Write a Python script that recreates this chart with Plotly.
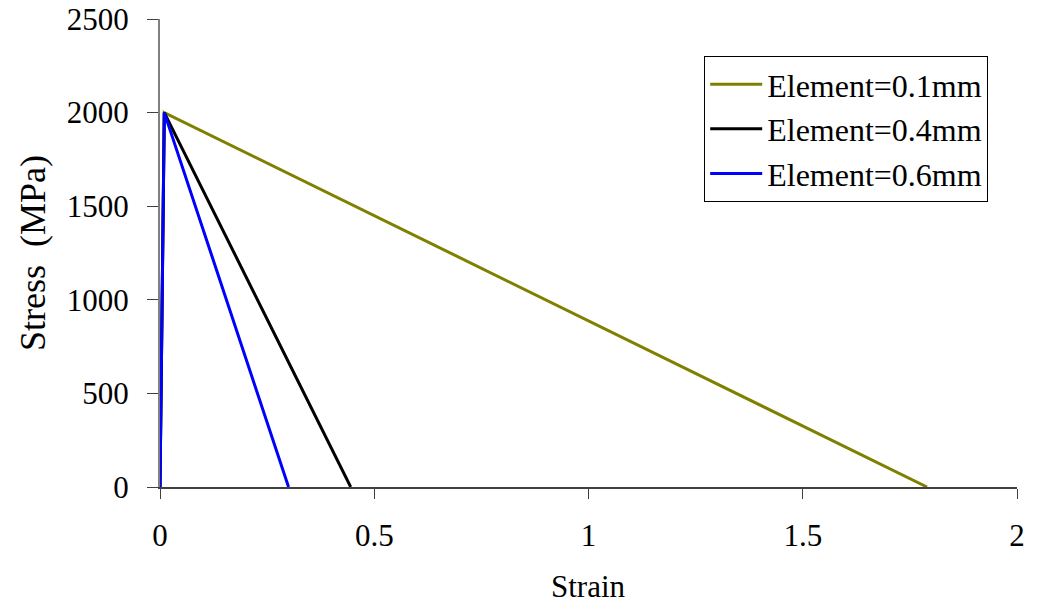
import plotly.graph_objects as go

names = ["Element=0.1mm", "Element=0.4mm", "Element=0.6mm"]
colors = ["#808000", "#000000", "#0000FF"]
strain_01 = [0.0, 0.01, 1.79]
stress_01 = [0, 2000, 0]
strain_04 = [0.0, 0.01, 0.445]
stress_04 = [0, 2000, 0]
strain_06 = [0.0, 0.01, 0.30]
stress_06 = [0, 2000, 0]

xs = [strain_01, strain_04, strain_06]
ys = [stress_01, stress_04, stress_06]

fig = go.Figure()
for x, y, n, c in zip(xs, ys, names, colors):
    fig.add_trace(go.Scatter(x=x, y=y, mode="lines", name=n,
                             line=dict(color=c, width=3)))

font = dict(family="Liberation Serif, Times New Roman, serif", size=31, color="black")

fig.update_layout(
    width=1039, height=604,
    margin=dict(l=160, r=22, t=19, b=117),
    paper_bgcolor="white", plot_bgcolor="white",
    font=font,
    showlegend=True,
    legend=dict(x=0.635, y=0.921, xanchor="left", yanchor="top",
                bordercolor="black", borderwidth=1, bgcolor="white",
                font=dict(size=32), tracegroupgap=0, itemwidth=52,
                entrywidth=292, entrywidthmode="pixels"),
    annotations=[dict(text="Strain", xref="paper", yref="paper", x=0.5, y=0,
                      xanchor="center", yanchor="middle", yshift=-99,
                      showarrow=False, font=dict(size=31))],
)
fig.update_xaxes(range=[0, 2], tickvals=[0, 0.5, 1, 1.5, 2],
                 ticktext=["0", "0.5", "1", "1.5", "2"],
                 automargin=False, ticklabeloverflow="allow",
                 showgrid=False, zeroline=False, showline=True,
                 linecolor="#404040", linewidth=2, ticks="outside", ticklen=10,
                 tickcolor="#404040", ticklabelstandoff=10)
fig.update_yaxes(range=[0, 2500], tickvals=[0, 500, 1000, 1500, 2000, 2500],
                 automargin=False, ticklabeloverflow="allow",
                 showgrid=False, zeroline=False, showline=True,
                 linecolor="#808080", linewidth=2, ticks="outside", ticklen=11,
                 tickcolor="#404040", ticklabelstandoff=12,
                 title=dict(text="Stress  (MPa)", standoff=10, font=dict(size=36)))

fig.write_html("out.html", config={"displayModeBar": False},
               post_script="document.body.style.margin='0';")
